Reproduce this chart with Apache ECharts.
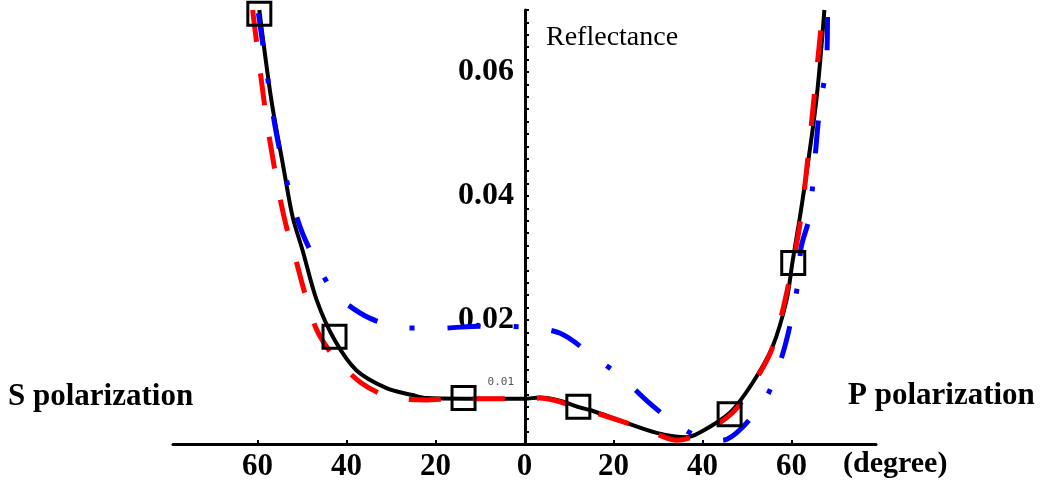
<!DOCTYPE html>
<html>
<head>
<meta charset="utf-8">
<script src="https://cdn.jsdelivr.net/npm/echarts@6/dist/echarts.min.js"></script>
<style>
  html, body { margin: 0; padding: 0; background: #fff; }
  #chart { width: 1044px; height: 482px; }
</style>
</head>
<body>
<div id="chart"></div>
<script>
// angle in degrees: S polarization on the left (negative), P on the right
const xTickValues = [-60, -40, -20, 0, 20, 40, 60];

// solid black curve
const solidCurve = [
  [-59.6, 0.0700], [-56.9, 0.0555], [-54.2, 0.0447], [-52.1, 0.0366], [-49.9, 0.0313],
  [-46.7, 0.0232], [-42.7, 0.0168], [-37.8, 0.0119], [-31.0, 0.0090], [-25.2, 0.0079],
  [-22.0, 0.0074], [-13.5, 0.0073], [0, 0.0073], [3.4, 0.0075], [7.9, 0.0070],
  [12.4, 0.0059], [15.1, 0.0054], [22.9, 0.0034], [29.7, 0.0018], [36.4, 0.0011],
  [39.3, 0.0018], [46.1, 0.0050], [51.2, 0.0098], [55.7, 0.0156], [58.9, 0.0232],
  [60.2, 0.0292], [62.5, 0.0394], [65.6, 0.0555], [67.4, 0.0700]
];

// red dashed curve
const dashedCurve = [
  [-61.1, 0.0700], [-60.2, 0.0647], [-57.8, 0.0515], [-55.1, 0.0402], [-53.5, 0.0350],
  [-51.2, 0.0292], [-49.4, 0.0244], [-46.7, 0.0184], [-42.7, 0.0140], [-36.6, 0.0098],
  [-30.3, 0.0076], [-22.0, 0.0071], [-16.2, 0.0073], [0, 0.0073], [3.4, 0.0074],
  [12.4, 0.0058], [22.9, 0.0034], [29.7, 0.0016], [34.2, 0.0006], [40.0, 0.0018],
  [46.7, 0.0050], [51.2, 0.0095], [55.7, 0.0155], [60.2, 0.0287], [62.5, 0.0385],
  [66.3, 0.0647], [67.0, 0.0700]
];

// blue dash-dot curve
const dashDotCurve = [
  [-59.8, 0.0695], [-56.2, 0.0518], [-53.5, 0.0426], [-49.9, 0.0340], [-43.8, 0.0253],
  [-42.0, 0.0237], [-34.8, 0.0203], [-26.3, 0.0187], [-18.7, 0.0187], [-10.1, 0.0190],
  [-1.1, 0.0189], [7.9, 0.0179], [15.7, 0.0140], [21.8, 0.0108], [28.1, 0.0066],
  [35.3, 0.0026], [42.0, 0.0006], [44.5, 0.0006], [49.0, 0.0027], [54.6, 0.0079],
  [57.8, 0.0140], [59.6, 0.0189], [61.3, 0.0253], [62.2, 0.0318], [64.0, 0.0366],
  [66.3, 0.0539], [67.9, 0.0615], [68.1, 0.0695]
];

// open squares
const squarePoints = [
  [-59.6, 0.0694], [-42.7, 0.0173], [-13.7, 0.0074],
  [12.1, 0.0060], [46.1, 0.0048], [60.4, 0.0292]
];

const bigYLabels = [0.02, 0.04, 0.06];
const smallYLabels = [0.01];

const serif = "'Liberation Serif', 'Times New Roman', serif";
const chart = echarts.init(document.getElementById("chart"));

chart.setOption({
  animation: false,
  backgroundColor: "#fff",
  grid: { left: 173, right: 168, top: 10, bottom: 38 },
  xAxis: {
    type: "value",
    min: -79,
    max: 79,
    axisLine: { lineStyle: { color: "#000", width: 3 } },
    axisTick: {
      inside: true,
      length: 4,
      customValues: [-60, -40, -20, 20, 40, 60],
      lineStyle: { color: "#000", width: 2 }
    },
    axisLabel: {
      customValues: xTickValues,
      margin: 7,
      formatter: v => String(Math.abs(v)),
      color: "#000",
      fontFamily: serif,
      fontWeight: "bold",
      fontSize: 31
    },
    splitLine: { show: false }
  },
  yAxis: {
    type: "value",
    min: 0,
    max: 0.07,
    interval: 0.01,
    offset: -352, // put the axis at x = 0
    axisLine: { onZero: false, lineStyle: { color: "#000", width: 3 } },
    axisTick: { inside: true, length: 4, lineStyle: { color: "#000", width: 2 } },
    minorTick: { show: true, splitNumber: 5, length: 4, lineStyle: { color: "#000", width: 2 } },
    splitLine: { show: false },
    axisLabel: {
      margin: 11,
      formatter: function (v) {
        const r = Math.round(v * 100) / 100;
        if (bigYLabels.indexOf(r) >= 0) return "{b|" + r.toFixed(2) + "}";
        if (smallYLabels.indexOf(r) >= 0) return "{s|" + r.toFixed(2) + "}";
        return "";
      },
      rich: {
        b: { fontFamily: serif, fontWeight: "bold", fontSize: 32, color: "#000" },
        s: { fontFamily: "'DejaVu Sans Mono', monospace", fontSize: 11, color: "#555" }
      }
    }
  },
  graphic: [
    { type: "text", left: 546, top: 24, style: { text: "Reflectance", font: "28px " + serif, fill: "#000" } },
    { type: "text", left: 8, top: 381, style: { text: "S polarization", font: "bold 31px " + serif, fill: "#000" } },
    { type: "text", left: 848, top: 380, style: { text: "P polarization", font: "bold 31px " + serif, fill: "#000" } },
    { type: "text", left: 843, top: 449, style: { text: "(degree)", font: "bold 30px " + serif, fill: "#000" } }
  ],
  series: [
    {
      name: "solid",
      type: "line",
      data: solidCurve,
      smooth: 0.3,
      showSymbol: false,
      z: 2,
      lineStyle: { color: "#000", width: 4 }
    },
    {
      name: "dashed",
      type: "line",
      data: dashedCurve,
      smooth: 0.3,
      showSymbol: false,
      z: 3,
      lineStyle: { color: "#f00", width: 5, type: [32, 32], cap: "butt" }
    },
    {
      name: "dashdot",
      type: "line",
      data: dashDotCurve,
      smooth: 0.3,
      showSymbol: false,
      z: 4,
      lineStyle: { color: "#00f", width: 5, type: [33, 33, 5, 33], cap: "butt" }
    },
    {
      name: "squares",
      type: "scatter",
      data: squarePoints,
      symbol: "rect",
      symbolSize: 23,
      z: 5,
      itemStyle: { color: "rgba(0,0,0,0)", borderColor: "#000", borderWidth: 3, opacity: 1 }
    }
  ]
});
</script>
</body>
</html>
